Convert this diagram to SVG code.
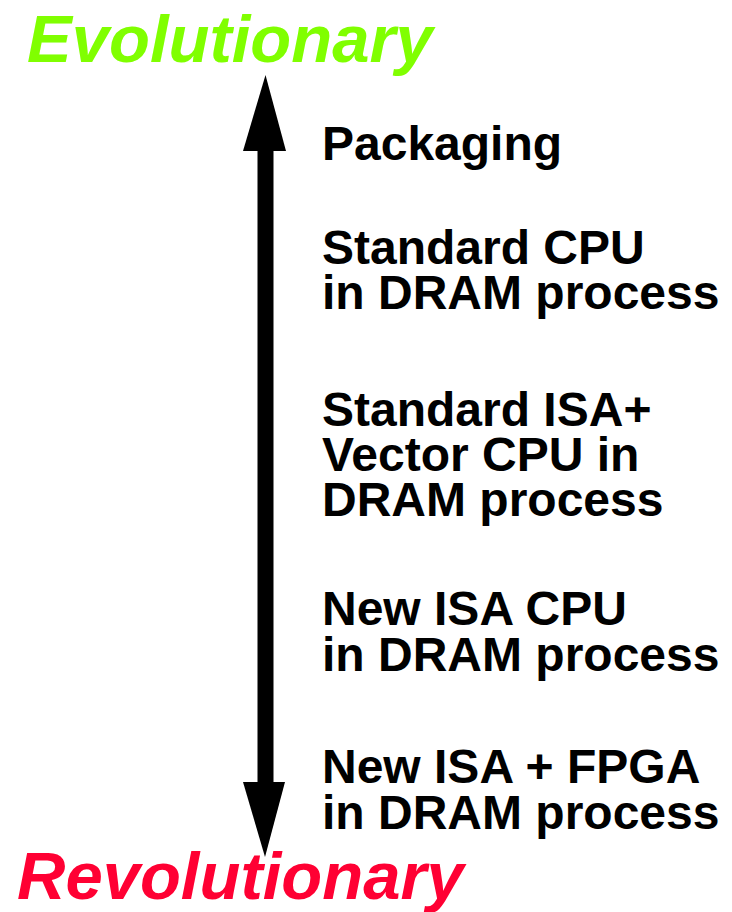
<svg xmlns="http://www.w3.org/2000/svg" width="732" height="912" viewBox="0 0 732 912">
<style>
.t{font-family:"Liberation Sans",Arial,sans-serif;font-weight:bold;font-size:48px;fill:#000}
.h{font-family:"Liberation Sans",Arial,sans-serif;font-weight:bold;font-style:italic;font-size:67px}
</style>
<rect width="732" height="912" fill="#fff"/>
<g id="evolutionary"><text class="h" x="27" y="62" fill="#80FF00">Evolutionary</text></g>
<g id="revolutionary"><text class="h" x="17" y="899" fill="#FF0033">Revolutionary</text></g>
<g id="connectors">
<rect x="257.5" y="148" width="16" height="636" fill="#000"/>
<polygon points="265.5,75 243,151 286,151" fill="#000"/>
<polygon points="265,857 243,782 285,782" fill="#000"/>
</g>
<g id="packaging"><text class="t" x="322" y="160">Packaging</text></g>
<g id="std-cpu"><text class="t" x="322" y="264">Standard CPU</text><text class="t" x="322" y="309">in DRAM process</text></g>
<g id="std-isa-vector"><text class="t" x="322" y="426">Standard ISA+</text><text class="t" x="322" y="471">Vector CPU in</text><text class="t" x="322" y="516">DRAM process</text></g>
<g id="new-isa-cpu"><text class="t" x="322" y="625">New ISA CPU</text><text class="t" x="322" y="671">in DRAM process</text></g>
<g id="new-isa-fpga"><text class="t" x="322" y="783">New ISA + FPGA</text><text class="t" x="322" y="829">in DRAM process</text></g>
</svg>
